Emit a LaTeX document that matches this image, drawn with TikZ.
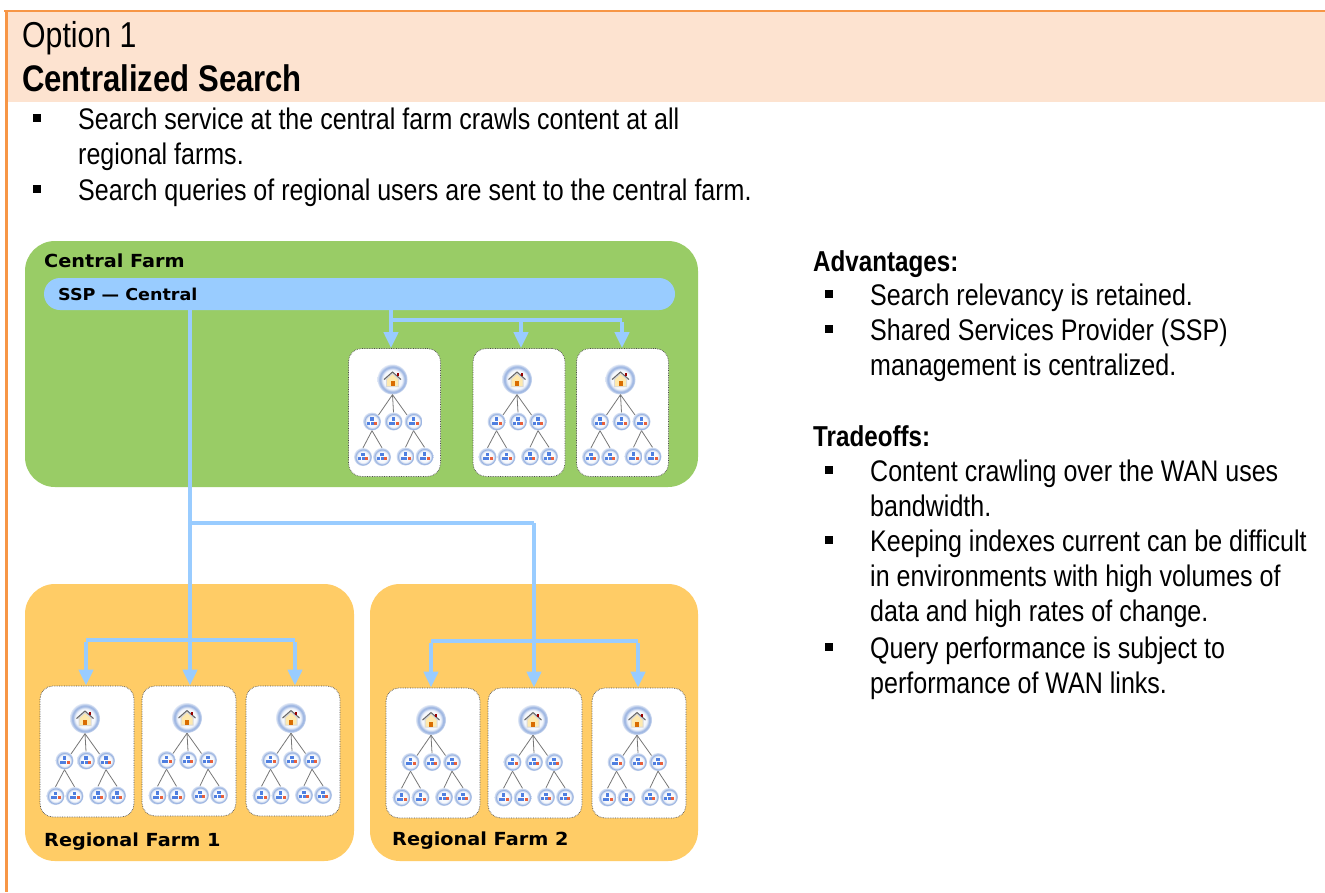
\documentclass[tikz,border=0pt]{standalone}
\usepackage{fontspec}
\setmainfont{Liberation Sans}[FakeStretch=0.84]
\newfontfamily\farmfont{DejaVu Sans}[FakeStretch=1.07]
\usetikzlibrary{arrows.meta,shadings}
\definecolor{frameor}{HTML}{F79646}
\definecolor{headbg}{HTML}{FDE3D0}
\definecolor{farmgreen}{HTML}{99CC66}
\definecolor{farmorange}{HTML}{FFCC66}
\definecolor{linkblue}{HTML}{99CCFF}
\definecolor{icoblue}{HTML}{7F9FD8}
\definecolor{iconet}{HTML}{4F7FE0}
\definecolor{icored}{HTML}{E8603C}
\definecolor{treeline}{HTML}{777777}
\pgfdeclareradialshading{icoshade}{\pgfpoint{0bp}{0bp}}{color(0bp)=(white);color(16bp)=(icoblue!8);color(21bp)=(icoblue!85);color(25bp)=(icoblue!25);color(50bp)=(icoblue!25)}
\tikzset{
  sitebox/.style={draw=black!70,densely dotted,line width=0.7pt,fill=white,rounded corners=13pt,inner sep=0pt},
  rooticon/.style={circle,shading=icoshade,minimum size=30pt,inner sep=0pt},
  leaficon/.style={circle,shading=icoshade,minimum size=18pt,inner sep=0pt},
  treelink/.style={draw=treeline,line width=0.8pt},
  linkline/.style={draw=linkblue,line width=4pt},
  linkarrow/.style={draw=linkblue,line width=4pt,-{Triangle[length=16pt,width=14pt,fill=linkblue]}},
  bodytext/.style={anchor=north west,align=left,inner sep=0pt,font=\fontsize{29.8}{35}\selectfont},
  headbold/.style={anchor=north west,inner sep=0pt,font=\fontsize{28.8}{35}\selectfont\bfseries},
  farmlabel/.style={anchor=base west,inner sep=0pt,font=\fontsize{18}{20}\selectfont\farmfont\bfseries},
  bulletmark/.style={fill=black,minimum size=8.5pt,inner sep=0pt},
  housepic/.pic={
    \fill[black!15] (-8.5,0) -- (0,-7.5) -- (8.5,0) -- (6.5,0) -- (6.5,7.5) -- (-6.5,7.5) -- (-6.5,0) -- cycle;
    \fill[yellow!50!orange!30] (-5.5,0) -- (0,-5) -- (5.5,0) -- (5.5,6.5) -- (-5.5,6.5) -- cycle;
    \fill[orange!85!black] (-2,1.5) rectangle (2,6.5);
    \draw[black!60,line width=1pt] (-8.5,0) -- (0,-7.5) -- (8.5,0);
    \fill[red!60!black] (4,-6.5) rectangle (6,-3.5);
  },
  netpic/.pic={
    \fill[iconet] (-1.8,-4.4) rectangle (1.8,-1);
    \fill[iconet] (-5,0) rectangle (-1.9,3);
    \fill[iconet] (-1.5,0) rectangle (1.6,3);
    \fill[icored] (2,0) rectangle (5.2,3.2);
  },
}
% #1 name, #2 x, #3 y, #4 width, #5 height of the white box
\newcommand{\treebox}[5]{%
  \node[sitebox,minimum width=#4pt,minimum height=#5pt] (#1) at (#2,#3) {};
  \begin{scope}[shift={(#2,#3)}]
    \node[rooticon] (#1-r) at (-2,-33) {};
    \node[leaficon] (#1-a) at (-22.5,9) {};
    \node[leaficon] (#1-b) at (-1,9) {};
    \node[leaficon] (#1-c) at (19,9) {};
    \node[leaficon] (#1-d) at (-31.5,44.5) {};
    \node[leaficon] (#1-e) at (-12.5,44.5) {};
    \node[leaficon] (#1-f) at (11,44) {};
    \node[leaficon] (#1-g) at (30,44) {};
    \draw[treelink] (#1-r.south) -- (#1-a.north east);
    \draw[treelink] (#1-r.south) -- (#1-b.north);
    \draw[treelink] (#1-r.south) -- (#1-c.north west);
    \draw[treelink] (#1-a.south) -- (#1-d.north);
    \draw[treelink] (#1-a.south) -- (#1-e.north);
    \draw[treelink] (#1-c.south) -- (#1-f.north);
    \draw[treelink] (#1-c.south) -- (#1-g.north);
    \pic at (#1-r) {housepic};
    \foreach \leaf in {a,b,c,d,e,f,g} {\pic at (#1-\leaf) {netpic};}
  \end{scope}}
\begin{document}
\begin{tikzpicture}[x=1pt,y=-1pt]
\useasboundingbox (0,0) rectangle (1325,892);
\fill[white] (0,0) rectangle (1325,892);
% header and frame
\fill[headbg] (8,12) rectangle (1325,102);
\fill[frameor] (4,10) rectangle (1325,12);
\fill[frameor] (5,10) rectangle (8,892);
\node[anchor=north west,inner sep=0pt,font=\fontsize{36}{40}\selectfont] (opt) at (22,21) {Option 1};
\node[anchor=north west,inner sep=0pt,font=\fontsize{37}{40}\selectfont\bfseries] (title) at (22,64) {Centralized Search};
% top bullets
\node[bulletmark] (bl1) at (37,118) {};
\node[bodytext] (tx1) at (78,108) {Search service at the central farm crawls content at all\\regional farms.};
\node[bulletmark] (bl2) at (37,189) {};
\node[bodytext] (tx2) at (78,179) {Search queries of regional users are sent to the central farm.};
% right column
\node[headbold] (adv) at (813,250) {Advantages:};
\node[bulletmark] (bl3) at (829,294) {};
\node[bodytext] (tx3) at (870,284) {Search relevancy is retained.};
\node[bulletmark] (bl4) at (829,329) {};
\node[bodytext] (tx4) at (870,319) {Shared Services Provider (SSP)\\management is centralized.};
\node[headbold] (trd) at (813,425) {Tradeoffs:};
\node[bulletmark] (bl5) at (829,470) {};
\node[bodytext] (tx5) at (870,460) {Content crawling over the WAN uses\\bandwidth.};
\node[bulletmark] (bl6) at (829,540) {};
\node[bodytext] (tx6) at (870,530) {Keeping indexes current can be difficult\\in environments with high volumes of\\data and high rates of change.};
\node[bulletmark] (bl7) at (829,647) {};
\node[bodytext] (tx7) at (870,637) {Query performance is subject to\\performance of WAN links.};
% farm panels
\fill[farmgreen,rounded corners=30pt] (25,241) rectangle (698,487);
\fill[farmorange,rounded corners=30pt] (25,584) rectangle (354,861);
\fill[farmorange,rounded corners=30pt] (370,584) rectangle (698,861);
\node[farmlabel] (cf) at (44,267) {Central Farm};
\node[farmlabel] (rf1) at (44,846) {Regional Farm 1};
\node[farmlabel] (rf2) at (392,845) {Regional Farm 2};
\node[fill=linkblue,rounded corners=16pt,minimum width=631pt,minimum height=32pt,inner sep=0pt] (ssp) at (359.5,294) {};
\node[anchor=base west,inner sep=0pt,font=\fontsize{16.4}{18}\selectfont\farmfont\bfseries] (ssplabel) at (58,300) {SSP — Central};
% site boxes
\treebox{c1}{394.5}{412.5}{92}{128}
\treebox{c2}{519}{412.5}{92}{128}
\treebox{c3}{622.5}{412.5}{92}{128}
\treebox{ra1}{87}{751.5}{94}{131}
\treebox{ra2}{189}{751}{94}{130}
\treebox{ra3}{293}{751}{94}{130}
\treebox{rb1}{433}{753}{94}{130}
\treebox{rb2}{535}{753}{94}{130}
\treebox{rb3}{639}{753}{94}{130}
% connectors
\coordinate (j0) at (ssp.south -| 190,0);
\coordinate (j1) at (190,523);
\coordinate (j2) at (534,523);
\coordinate (ral) at (86,640);
\coordinate (rar) at (295,640);
\coordinate (rbl) at (431,641);
\coordinate (rbr) at (638,641);
\coordinate (c0) at (ssp.south -| 391,0);
\coordinate (cj) at (391,320);
\coordinate (cm) at (521,320);
\coordinate (cr) at (622,320);
\draw[linkarrow] (j0) -- (j0 |- ra2.north);
\draw[linkline] (j1) -- (j2);
\draw[linkarrow] (j2) -- (j2 |- rb2.north);
\draw[linkline] (ral) -- (rar);
\draw[linkarrow] ([yshift=-2pt]ral) -- (ral |- ra1.north);
\draw[linkarrow] ([yshift=-2pt]rar) -- (rar |- ra3.north);
\draw[linkline] (rbl) -- (rbr);
\draw[linkarrow] ([yshift=-2pt]rbl) -- (rbl |- rb1.north);
\draw[linkarrow] ([yshift=-2pt]rbr) -- (rbr |- rb3.north);
\draw[linkarrow] (c0) -- (c0 |- c1.north);
\draw[linkline] (cj) -- (cr);
\draw[linkarrow] (cm) -- (cm |- c2.north);
\draw[linkarrow] ([yshift=-2pt]cr) -- (cr |- c3.north);
\end{tikzpicture}
\end{document}
